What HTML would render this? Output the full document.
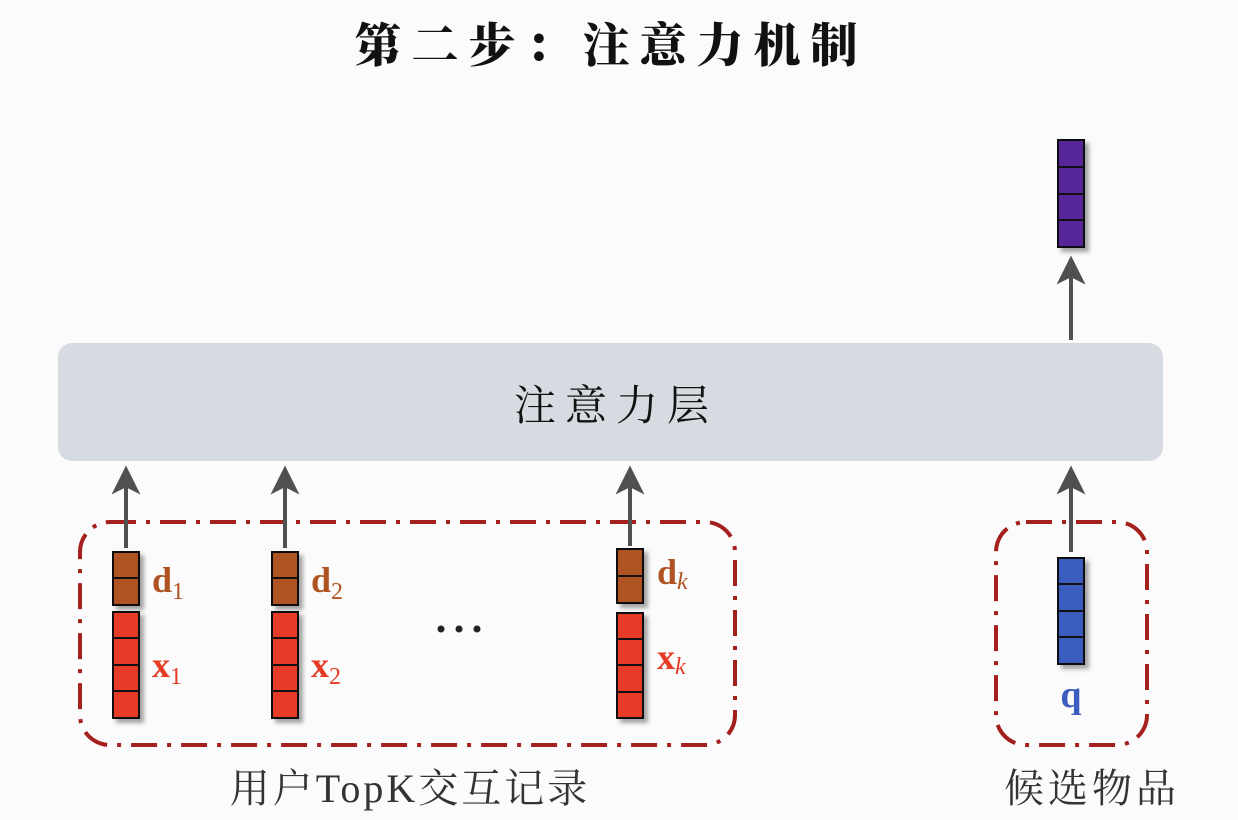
<!DOCTYPE html>
<html><head><meta charset="utf-8"><style>
html,body{margin:0;padding:0;background:#fbfbfb;}
svg{display:block;}
</style></head><body>
<svg width="1238" height="820" viewBox="0 0 1238 820" xmlns="http://www.w3.org/2000/svg">
<defs>
<filter id="sh" x="-50%" y="-20%" width="200%" height="140%"><feDropShadow dx="4" dy="4" stdDeviation="2" flood-color="#000" flood-opacity="0.35"/></filter>
</defs>
<rect width="1238" height="820" fill="#fbfbfb"/>
<text x="611" y="62" text-anchor="middle" font-family="'Noto Serif CJK SC','Noto Sans CJK SC',serif" font-weight="900" font-size="47" letter-spacing="10" fill="#111">第二步：注意力机制</text>
<rect x="58" y="343" width="1105" height="118" rx="14" fill="#d6dae1"/>
<text x="616" y="420" text-anchor="middle" font-family="'Noto Serif CJK SC','Noto Sans CJK SC',serif" font-size="42" letter-spacing="9" fill="#111">注意力层</text>
<g fill="none" stroke="#a3201c" stroke-width="4" stroke-dasharray="26,10,4,10">
<rect x="80" y="522" width="655" height="223" rx="30"/>
<rect x="996" y="522" width="151" height="223" rx="30"/>
</g>
<g stroke="#505050" stroke-width="4" fill="#505050">
<line x1="126" y1="548" x2="126" y2="480"/><polygon points="126,470 116,490 126,485 136,490"/>
<line x1="285" y1="548" x2="285" y2="480"/><polygon points="285,470 275,490 285,485 295,490"/>
<line x1="630" y1="546" x2="630" y2="480"/><polygon points="630,470 620,490 630,485 640,490"/>
<line x1="1071" y1="552" x2="1071" y2="480"/><polygon points="1071,470 1061,490 1071,485 1081,490"/>
<line x1="1071" y1="340" x2="1071" y2="270"/><polygon points="1071,260 1061,280 1071,275 1081,280"/>
</g>
<g stroke="#111" stroke-width="2" filter="url(#sh)">
<rect x="113" y="552" width="26" height="53" fill="#b05322"/>
<rect x="113" y="612" width="26" height="106" fill="#e63a25"/>
<rect x="272" y="552" width="26" height="53" fill="#b05322"/>
<rect x="272" y="612" width="26" height="106" fill="#e63a25"/>
<rect x="617" y="549" width="26" height="54" fill="#b05322"/>
<rect x="617" y="613" width="26" height="105" fill="#e63a25"/>
<rect x="1058" y="558" width="26" height="106" fill="#3a5dbf"/>
<rect x="1058" y="140" width="26" height="107" fill="#56259a"/>
</g>
<g stroke="#111" stroke-width="2">
<line x1="113" y1="578" x2="139" y2="578"/><line x1="113" y1="638" x2="139" y2="638"/><line x1="113" y1="665" x2="139" y2="665"/><line x1="113" y1="691" x2="139" y2="691"/>
<line x1="272" y1="578" x2="298" y2="578"/><line x1="272" y1="638" x2="298" y2="638"/><line x1="272" y1="665" x2="298" y2="665"/><line x1="272" y1="691" x2="298" y2="691"/>
<line x1="617" y1="576" x2="643" y2="576"/><line x1="617" y1="639" x2="643" y2="639"/><line x1="617" y1="665" x2="643" y2="665"/><line x1="617" y1="692" x2="643" y2="692"/>
<line x1="1058" y1="584" x2="1084" y2="584"/><line x1="1058" y1="611" x2="1084" y2="611"/><line x1="1058" y1="637" x2="1084" y2="637"/>
<line x1="1058" y1="167" x2="1084" y2="167"/><line x1="1058" y1="194" x2="1084" y2="194"/><line x1="1058" y1="220" x2="1084" y2="220"/>
</g>
<g font-family="'Liberation Serif',serif" font-weight="bold" font-size="36">
<text x="152" y="592" fill="#b05322">d<tspan font-size="24" font-weight="normal" dy="7">1</tspan></text>
<text x="152" y="677" fill="#e63a25">x<tspan font-size="24" font-weight="normal" dy="7">1</tspan></text>
<text x="311" y="592" fill="#b05322">d<tspan font-size="24" font-weight="normal" dy="7">2</tspan></text>
<text x="311" y="677" fill="#e63a25">x<tspan font-size="24" font-weight="normal" dy="7">2</tspan></text>
<text x="657" y="584" fill="#b05322">d<tspan font-size="24" font-style="italic" font-weight="normal" dy="5">k</tspan></text>
<text x="657" y="669" fill="#e63a25">x<tspan font-size="24" font-style="italic" font-weight="normal" dy="5">k</tspan></text>
<text x="1071" y="707" text-anchor="middle" fill="#3a5dbf" font-size="38">q</text>
</g>
<g fill="#222"><circle cx="441" cy="629" r="3.5"/><circle cx="459" cy="629" r="3.5"/><circle cx="477" cy="629" r="3.5"/></g>
<text x="410" y="802" text-anchor="middle" font-family="'Liberation Serif','Noto Serif CJK SC',serif" font-size="40" fill="#333" letter-spacing="3">用户TopK交互记录</text>
<text x="1092" y="802" text-anchor="middle" font-family="'Noto Serif CJK SC','Noto Sans CJK SC',serif" font-size="40" fill="#333" letter-spacing="4">候选物品</text>
</svg>
</body></html>
